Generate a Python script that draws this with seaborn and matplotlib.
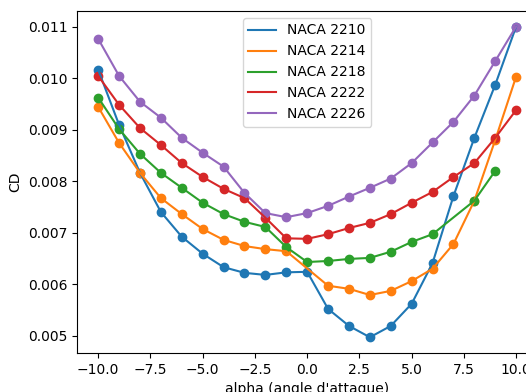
import numpy as np
import pandas as pd
import seaborn as sns
import matplotlib
matplotlib.use("Agg")
import matplotlib.pyplot as plt

alpha_full = [-10, -9, -8, -7, -6, -5, -4, -3, -2, -1, 0, 1, 2, 3, 4, 5, 6, 7, 8, 9, 10]
alpha_2214 = [-10, -9, -8, -7, -6, -5, -4, -3, -2, -1, 1, 2, 3, 4, 5, 6, 7, 8, 9, 10]
alpha_2218 = [-10, -9, -8, -7, -6, -5, -4, -3, -2, -1, 0, 1, 2, 3, 4, 5, 6, 8, 9]

cd_2210 = [0.01016, 0.00909, 0.00816, 0.00740, 0.00692, 0.00659, 0.00633, 0.00622, 0.00618, 0.00623,
           0.00624, 0.00552, 0.00519, 0.00497, 0.00519, 0.00562, 0.00641, 0.00771, 0.00884, 0.00987, 0.01100]
cd_2214 = [0.00944, 0.00874, 0.00816, 0.00767, 0.00736, 0.00707, 0.00686, 0.00674, 0.00668, 0.00664,
           0.00597, 0.00591, 0.00579, 0.00587, 0.00606, 0.00630, 0.00678, 0.00762, 0.00880, 0.01003]
cd_2218 = [0.00962, 0.00901, 0.00853, 0.00816, 0.00787, 0.00758, 0.00736, 0.00721, 0.00711, 0.00672,
           0.00643, 0.00645, 0.00649, 0.00651, 0.00663, 0.00682, 0.00697, 0.00762, 0.00820]
cd_2222 = [0.01004, 0.00948, 0.00903, 0.00870, 0.00835, 0.00808, 0.00785, 0.00767, 0.00729, 0.00689,
           0.00688, 0.00697, 0.00709, 0.00719, 0.00736, 0.00758, 0.00779, 0.00808, 0.00835, 0.00884, 0.00938]
cd_2226 = [0.01076, 0.01004, 0.00954, 0.00923, 0.00884, 0.00855, 0.00828, 0.00777, 0.00738, 0.00730,
           0.00738, 0.00752, 0.00770, 0.00787, 0.00805, 0.00835, 0.00875, 0.00915, 0.00966, 0.01033, 0.01100]

profiles = ["NACA 2210", "NACA 2214", "NACA 2218", "NACA 2222", "NACA 2226"]
alphas = [alpha_full, alpha_2214, alpha_2218, alpha_full, alpha_full]
cds = [cd_2210, cd_2214, cd_2218, cd_2222, cd_2226]

colors = sns.color_palette("tab10", 5)

fig, ax = plt.subplots(figsize=(5.26, 3.92), dpi=100)
fig.subplots_adjust(left=0.147, right=1.021, bottom=0.1, top=0.972)

for name, a, cd, c in zip(profiles, alphas, cds, colors):
    df = pd.DataFrame({"alpha": a, "CD": cd})
    sns.lineplot(data=df, x="alpha", y="CD", color=c, label=name, ax=ax)
    sns.scatterplot(data=df, x="alpha", y="CD", color=c, s=36, edgecolor=c,
                    linewidth=1, legend=False, ax=ax)

ax.set_xlabel("alpha (angle d'attaque)")
ax.set_ylabel("CD")
ax.legend(loc="upper center")

fig.savefig("out.png", dpi=100)
